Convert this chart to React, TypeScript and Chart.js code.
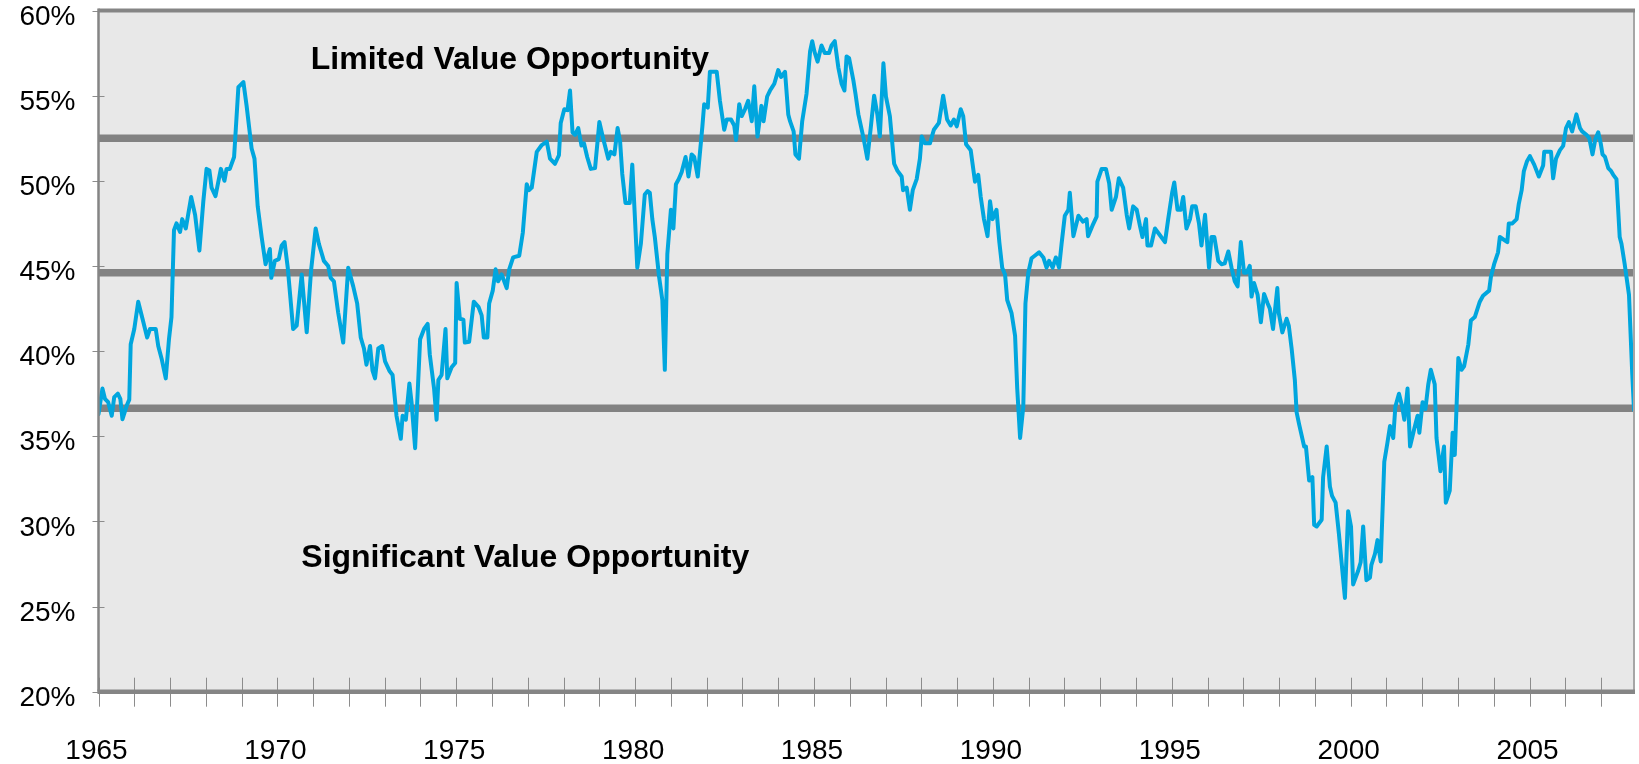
import React, { useEffect, useRef } from 'react';
import { Chart, registerables } from 'chart.js';

Chart.register(...registerables);

// Decimal year of each reading
const dates: number[] = [
  1965.0, 1965.11, 1965.18, 1965.27, 1965.37, 1965.44, 1965.54, 1965.61, 1965.67, 1965.79, 1965.86, 1965.9,
  1966.0, 1966.11, 1966.23, 1966.36, 1966.44, 1966.6, 1966.67, 1966.77, 1966.88, 1966.97,
  1967.04, 1967.11, 1967.18, 1967.28, 1967.34, 1967.44, 1967.59, 1967.7, 1967.82, 1967.93,
  1968.02, 1968.1, 1968.16, 1968.27, 1968.42, 1968.52, 1968.58, 1968.67, 1968.79, 1968.91,
  1969.05, 1969.14, 1969.28, 1969.36, 1969.45, 1969.56, 1969.67, 1969.79, 1969.83, 1969.93,
  1970.04, 1970.12, 1970.2, 1970.29, 1970.44, 1970.54, 1970.68, 1970.82, 1970.94,
  1971.07, 1971.16, 1971.3, 1971.42, 1971.49, 1971.58, 1971.7, 1971.84, 1971.98,
  1972.12, 1972.23, 1972.33, 1972.42, 1972.49, 1972.59, 1972.66, 1972.73, 1972.82, 1972.93,
  1973.01, 1973.13, 1973.22, 1973.33, 1973.45, 1973.5, 1973.59, 1973.69, 1973.75, 1973.85, 1973.99,
  1974.1, 1974.2, 1974.26, 1974.38, 1974.45, 1974.5, 1974.59, 1974.7, 1974.75, 1974.87, 1974.97,
  1975.01, 1975.1, 1975.2, 1975.24, 1975.36, 1975.49, 1975.62, 1975.71, 1975.77, 1975.87, 1975.92,
  1976.02, 1976.1, 1976.17, 1976.27, 1976.41, 1976.48, 1976.59, 1976.76, 1976.86, 1976.97,
  1977.03, 1977.11, 1977.25, 1977.39, 1977.53, 1977.62, 1977.76, 1977.87, 1977.92,
  1978.02, 1978.11, 1978.18, 1978.25, 1978.32, 1978.41, 1978.5, 1978.57, 1978.66, 1978.76, 1978.88,
  1979.0, 1979.11, 1979.25, 1979.32, 1979.42, 1979.51, 1979.58, 1979.64, 1979.73, 1979.85, 1979.92, 1979.99,
  1980.06, 1980.16, 1980.27, 1980.35, 1980.41, 1980.48, 1980.55, 1980.67, 1980.76, 1980.83, 1980.9,
  1981.0, 1981.07, 1981.14, 1981.22, 1981.3, 1981.41, 1981.49, 1981.58, 1981.65, 1981.75, 1981.88, 1981.93,
  1982.03, 1982.09, 1982.18, 1982.28, 1982.37, 1982.49, 1982.56, 1982.68, 1982.77, 1982.82, 1982.91, 1982.98,
  1983.07, 1983.16, 1983.26, 1983.33, 1983.42, 1983.53, 1983.59, 1983.69, 1983.77, 1983.83, 1983.89,
  1984.0, 1984.08, 1984.19, 1984.28, 1984.33, 1984.43, 1984.48, 1984.58, 1984.67, 1984.79, 1984.89, 1984.95,
  1985.01, 1985.1, 1985.21, 1985.3, 1985.42, 1985.49, 1985.58, 1985.68, 1985.77, 1985.85, 1985.91, 1985.98,
  1986.1, 1986.16, 1986.24, 1986.39, 1986.49, 1986.58, 1986.68, 1986.77, 1986.84, 1986.94,
  1987.01, 1987.12, 1987.24, 1987.33, 1987.45, 1987.49, 1987.59, 1987.68, 1987.76, 1987.87, 1987.96,
  1988.01, 1988.1, 1988.24, 1988.35, 1988.49, 1988.61, 1988.72, 1988.82, 1988.91, 1988.99,
  1989.1, 1989.17, 1989.25, 1989.38, 1989.5, 1989.59, 1989.66, 1989.75, 1989.85, 1989.92, 1989.99,
  1990.1, 1990.18, 1990.26, 1990.34, 1990.4, 1990.52, 1990.62, 1990.68, 1990.76, 1990.85, 1990.91, 1990.99,
  1991.08, 1991.17, 1991.29, 1991.41, 1991.5, 1991.57, 1991.67, 1991.76, 1991.85, 1991.92,
  1992.01, 1992.11, 1992.15, 1992.25, 1992.39, 1992.52, 1992.62, 1992.66, 1992.78, 1992.9, 1992.92,
  1993.04, 1993.16, 1993.25, 1993.32, 1993.44, 1993.52, 1993.64, 1993.74, 1993.81, 1993.92,
  1994.02, 1994.11, 1994.18, 1994.28, 1994.32, 1994.42, 1994.53, 1994.67, 1994.81, 1994.9,
  1995.01, 1995.07, 1995.16, 1995.25, 1995.32, 1995.41, 1995.51, 1995.57, 1995.67, 1995.76, 1995.83, 1995.93,
  1996.04, 1996.11, 1996.19, 1996.3, 1996.39, 1996.48, 1996.58, 1996.67, 1996.76, 1996.84, 1996.93,
  1997.02, 1997.09, 1997.18, 1997.23, 1997.3, 1997.4, 1997.49, 1997.58, 1997.68, 1997.74, 1997.83, 1997.95, 1997.99,
  1998.09, 1998.21, 1998.27, 1998.35, 1998.44, 1998.49, 1998.56, 1998.7, 1998.75, 1998.84, 1998.93, 1998.98,
  1999.05, 1999.19, 1999.23, 1999.33, 1999.42, 1999.48, 1999.58, 1999.67, 1999.84, 1999.93,
  2000.01, 2000.07, 2000.21, 2000.28, 2000.35, 2000.44, 2000.54, 2000.58, 2000.68, 2000.75, 2000.84, 2000.94,
  2001.03, 2001.1, 2001.19, 2001.25, 2001.35, 2001.44, 2001.5, 2001.59, 2001.66, 2001.78, 2001.87, 2001.92,
  2002.01, 2002.09, 2002.17, 2002.24, 2002.35, 2002.4, 2002.51, 2002.61, 2002.66, 2002.77, 2002.85, 2002.91,
  2003.01, 2003.1, 2003.17, 2003.29, 2003.36, 2003.47, 2003.61, 2003.7, 2003.87, 2003.92,
  2004.01, 2004.12, 2004.17, 2004.38, 2004.42, 2004.52, 2004.64, 2004.7, 2004.78, 2004.84, 2004.93,
  2005.01, 2005.13, 2005.26, 2005.38, 2005.41, 2005.52, 2005.6, 2005.66, 2005.74, 2005.85, 2005.94,
  2006.02, 2006.1, 2006.19, 2006.31, 2006.41, 2006.47, 2006.59, 2006.67, 2006.76, 2006.84, 2006.92, 2006.99,
  2007.04, 2007.11, 2007.2, 2007.27, 2007.34, 2007.43, 2007.52, 2007.57, 2007.66, 2007.78, 2007.87, 2007.92,
];

// Ratio (%) read at each date
const ratio: number[] = [
  36.3, 37.8, 37.2, 37.0, 36.2, 37.3, 37.5, 37.2, 36.0, 36.8, 37.15, 40.4,
  41.3, 42.9, 41.9, 40.8, 41.3, 41.3, 40.3, 39.5, 38.4, 40.7,
  42.0, 47.1, 47.5, 47.0, 47.75, 47.2, 49.05, 48.0, 45.9, 48.8,
  50.7, 50.6, 49.6, 49.1, 50.7, 50.0, 50.7, 50.7, 51.4, 55.5,
  55.8, 54.4, 51.9, 51.3, 48.5, 46.7, 45.1, 46.0, 44.3, 45.3,
  45.4, 46.2, 46.4, 44.9, 41.3, 41.5, 44.5, 41.1, 44.7,
  47.2, 46.3, 45.3, 45.0, 44.3, 44.1, 42.25, 40.5, 44.9,
  43.8, 42.8, 40.8, 40.15, 39.2, 40.3, 38.85, 38.4, 40.15, 40.3,
  39.4, 38.85, 38.6, 36.2, 34.85, 36.2, 35.97, 38.1, 37.0, 34.3, 40.7,
  41.3, 41.6, 39.8, 37.8, 35.97, 38.3, 38.6, 41.3, 38.4, 39.05, 39.3,
  44.0, 41.9, 41.85, 40.5, 40.55, 42.9, 42.6, 42.1, 40.8, 40.8, 42.8,
  43.55, 44.8, 44.1, 44.5, 43.7, 44.8, 45.5, 45.6, 46.95, 49.8,
  49.45, 49.6, 51.7, 52.1, 52.3, 51.3, 51.0, 51.5, 53.4,
  54.2, 54.15, 55.3, 52.85, 52.7, 53.1, 52.07, 52.2, 51.4, 50.7, 50.75,
  53.45, 52.45, 51.3, 51.7, 51.55, 53.1, 52.3, 50.4, 48.7, 48.7, 50.95, 48.0,
  44.9, 46.3, 49.2, 49.4, 49.3, 47.75, 46.7, 44.35, 43.0, 38.9, 45.7,
  48.3, 47.2, 49.8, 50.1, 50.5, 51.4, 50.25, 51.55, 51.4, 50.25, 53.2, 54.5,
  54.3, 56.4, 56.4, 56.4, 54.7, 53.0, 53.6, 53.6, 53.25, 52.4, 54.5, 53.8,
  54.2, 54.7, 53.5, 55.55, 52.6, 54.4, 53.5, 54.95, 55.3, 55.5, 55.7,
  56.5, 56.1, 56.4, 53.9, 53.5, 52.9, 51.55, 51.3, 53.5, 55.1, 57.6, 58.2,
  57.6, 57.0, 57.95, 57.5, 57.5, 57.95, 58.2, 56.65, 55.7, 55.3, 57.3, 57.2,
  55.9, 55.1, 53.9, 52.45, 51.3, 53.0, 55.0, 53.9, 52.6, 56.9,
  54.95, 53.8, 51.0, 50.6, 50.25, 49.45, 49.6, 48.3, 49.45, 50.1, 51.3,
  52.6, 52.2, 52.2, 53.0, 53.4, 55.0, 53.6, 53.25, 53.6, 53.2,
  54.2, 53.8, 52.15, 51.8, 49.95, 50.35, 49.05, 47.75, 46.75, 48.8, 47.75,
  48.3, 46.4, 44.9, 44.5, 43.0, 42.25, 40.9, 37.8, 34.9, 36.75, 42.8, 44.6,
  45.45, 45.6, 45.8, 45.5, 44.9, 45.3, 44.9, 45.5, 44.9, 46.3,
  47.95, 48.3, 49.3, 46.75, 47.95, 47.6, 47.75, 46.75, 47.35, 47.9, 49.95,
  50.7, 50.7, 49.85, 48.3, 49.05, 50.15, 49.6, 48.0, 47.2, 48.5,
  48.3, 47.35, 46.7, 47.75, 46.2, 46.2, 47.2, 46.8, 46.4, 47.75,
  49.3, 49.9, 48.3, 48.3, 49.05, 47.2, 47.75, 48.5, 48.5, 47.5, 46.2, 48.0,
  44.9, 46.7, 46.7, 45.3, 45.1, 45.15, 45.85, 44.9, 44.1, 43.8, 46.4,
  44.6, 44.6, 45.0, 43.2, 44.0, 43.3, 41.7, 43.35, 42.8, 42.5, 41.3, 43.7, 42.25,
  41.1, 41.9, 41.5, 40.15, 38.3, 36.4, 35.7, 34.4, 34.4, 32.4, 32.6, 29.8,
  29.7, 30.1, 32.6, 34.4, 32.05, 31.5, 31.1, 29.3, 25.5, 30.6,
  29.7, 26.3, 27.1, 27.6, 29.7, 26.55, 26.7, 27.45, 28.1, 28.9, 27.65, 33.5,
  34.65, 35.6, 34.9, 36.75, 37.5, 36.75, 35.97, 37.8, 34.4, 35.45, 36.2, 35.2,
  37.0, 36.6, 38.05, 38.9, 38.05, 34.9, 32.95, 34.4, 31.1, 31.8, 35.2, 33.9,
  39.6, 38.9, 39.1, 40.4, 41.8, 42.0, 42.9, 43.25, 43.55, 44.35,
  45.1, 45.8, 46.7, 46.4, 47.5, 47.5, 47.75, 48.65, 49.45, 50.55, 51.15,
  51.45, 50.95, 50.25, 50.9, 51.7, 51.7, 51.7, 50.15, 51.3, 51.8, 52.05,
  53.1, 53.45, 52.9, 53.9, 53.1, 52.9, 52.7, 52.5, 51.55, 52.45, 52.85, 52.2,
  51.55, 51.4, 50.75, 50.6, 50.35, 50.1, 46.7, 46.3, 45.1, 43.3, 38.7, 36.55,
];

// Horizontal reference levels (%)
const bandLevels: number[] = [52.5, 44.6, 36.65];

// Axis tick labels
const yearLabels: number[] = [1965, 1970, 1975, 1980, 1985, 1990, 1995, 2000, 2005];
const percentTicks: number[] = [20, 25, 30, 35, 40, 45, 50, 55, 60];

// Text annotations (anchored in data units)
const noteTexts: string[] = ['Limited Value Opportunity', 'Significant Value Opportunity'];
const noteYears: number[] = [1976.5, 1976.93];
const notePercents: number[] = [56.55, 27.32];

const FONT = "'Liberation Sans', Arial, Helvetica, sans-serif";

const framePlugin = {
  id: 'frame',
  beforeDraw(chart: any) {
    const { ctx, chartArea: a } = chart;
    ctx.save();
    ctx.fillStyle = '#E8E8E8';
    ctx.fillRect(a.left, a.top, a.right - a.left, a.bottom - a.top);
    ctx.restore();
  },
  afterDatasetsDraw(chart: any) {
    const { ctx, chartArea: a, scales } = chart;
    const xs = scales.x;
    const ys = scales.y;
    const line = (x1: number, y1: number, x2: number, y2: number) => {
      ctx.beginPath();
      ctx.moveTo(x1, y1);
      ctx.lineTo(x2, y2);
      ctx.stroke();
    };
    ctx.save();
    // tick marks
    ctx.strokeStyle = '#8C8C8C';
    ctx.lineWidth = 1;
    for (let yr = Math.ceil(xs.min); yr <= xs.max; yr++) {
      const px = Math.round(xs.getPixelForValue(yr)) + 0.5;
      line(px, a.bottom - 14, px, a.bottom + 15);
    }
    for (const v of percentTicks) {
      const py = Math.round(ys.getPixelForValue(v)) + 0.5;
      line(a.left - 6, py, a.left + 6, py);
    }
    // right border
    ctx.strokeStyle = '#A6A6A6';
    ctx.lineWidth = 2;
    line(a.right, a.top, a.right, a.bottom);
    // left axis
    ctx.strokeStyle = '#858585';
    ctx.lineWidth = 2.5;
    line(a.left, a.top - 2, a.left, a.bottom);
    // top line
    ctx.lineWidth = 4;
    line(a.left, a.top, a.right + 1, a.top);
    // bottom axis
    ctx.lineWidth = 4.5;
    line(a.left - 1, a.bottom, a.right + 1, a.bottom);
    // annotations
    ctx.fillStyle = '#000000';
    ctx.font = `bold 32px ${FONT}`;
    ctx.textAlign = 'center';
    ctx.textBaseline = 'alphabetic';
    noteTexts.forEach((t, i) => {
      ctx.fillText(t, xs.getPixelForValue(noteYears[i]), ys.getPixelForValue(notePercents[i]));
    });
    ctx.restore();
  },
};

export default function App() {
  const canvasRef = useRef<HTMLCanvasElement | null>(null);

  useEffect(() => {
    if (!canvasRef.current) return;
    const xMin = 1965;
    const xMax = dates[dates.length - 1];
    const mainData = dates.map((d, i) => ({ x: d, y: ratio[i] }));
    const bandSets = bandLevels.map((lvl) => ({
      data: [
        { x: xMin, y: lvl },
        { x: xMax, y: lvl },
      ],
      borderColor: '#828282',
      borderWidth: 7.5,
      pointRadius: 0,
      borderCapStyle: 'butt' as const,
      order: 2,
    }));
    const chart = new Chart(canvasRef.current, {
      type: 'line',
      data: {
        datasets: [
          {
            data: mainData,
            borderColor: '#00A6DE',
            borderWidth: 4,
            pointRadius: 0,
            tension: 0,
            borderJoinStyle: 'round',
            borderCapStyle: 'round',
            order: 0,
          },
          ...bandSets,
        ],
      },
      options: {
        animation: false,
        responsive: false,
        maintainAspectRatio: false,
        layout: { padding: { left: 0, right: 5, top: 10.5, bottom: 0 } },
        plugins: { legend: { display: false }, tooltip: { enabled: false } },
        scales: {
          x: {
            type: 'linear',
            min: xMin,
            max: xMax,
            grid: { display: false, drawTicks: false },
            border: { display: false },
            ticks: {
              stepSize: 1,
              autoSkip: false,
              maxRotation: 0,
              minRotation: 0,
              padding: 43,
              labelOffset: -2,
              color: '#000000',
              font: { family: FONT, size: 28 },
              callback: (v: any) => (yearLabels.includes(Number(v)) ? String(v) : ''),
            },
            afterFit: (s: any) => {
              s.height = 72.3;
              s.paddingLeft = 0;
              s.paddingRight = 0;
            },
          },
          y: {
            type: 'linear',
            min: 20,
            max: 60,
            grid: { display: false, drawTicks: false },
            border: { display: false },
            ticks: {
              stepSize: 5,
              padding: 23,
              labelOffset: 6.5,
              color: '#000000',
              font: { family: FONT, size: 28 },
              callback: (v: any) => (percentTicks.includes(Number(v)) ? `${v}%` : ''),
            },
            afterFit: (s: any) => {
              s.width = 98.5;
              s.paddingTop = 0;
              s.paddingBottom = 0;
            },
          },
        },
      },
      plugins: [framePlugin],
    });
    return () => chart.destroy();
  }, []);

  return (
    <div style={{ position: 'absolute', left: 0, top: 0, width: 1639, height: 764, background: '#ffffff' }}>
      <canvas ref={canvasRef} width={1639} height={764} style={{ width: 1639, height: 764, display: 'block' }} />
    </div>
  );
}
